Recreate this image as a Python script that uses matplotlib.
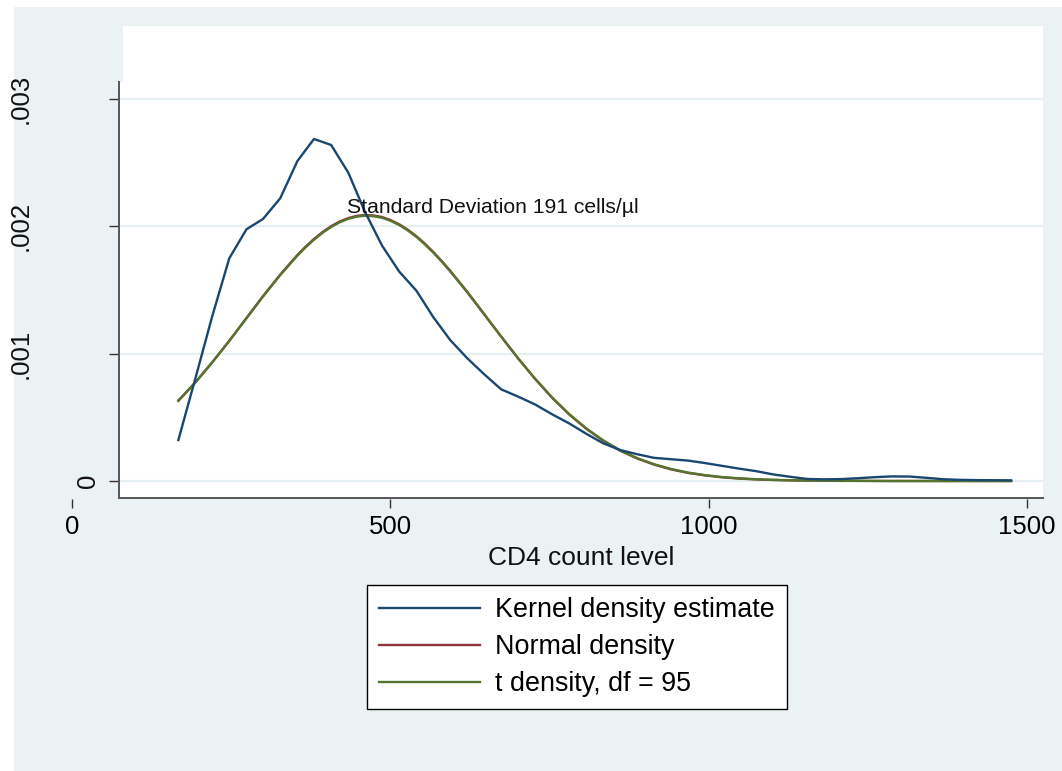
import matplotlib.pyplot as plt
from matplotlib.patches import Rectangle
from matplotlib.transforms import blended_transform_factory

plt.rcParams['font.family'] = ['Liberation Sans', 'DejaVu Sans']

# evaluation grid (CD4 count) and densities, in units of 1e-3
cd4 = [167, 194, 220, 247, 274, 300, 327, 354, 380, 407,
       434, 460, 487, 514, 541, 567, 594, 621, 647, 674,
       701, 727, 754, 781, 808, 834, 861, 888, 914, 941,
       968, 994, 1021, 1048, 1075, 1101, 1128, 1155, 1181, 1208,
       1235, 1261, 1288, 1315, 1342, 1368, 1395, 1422, 1448, 1475]

kernel = [0.322, 0.81, 1.29, 1.749, 1.977, 2.058, 2.220, 2.513, 2.686, 2.639,
          2.421, 2.115, 1.848, 1.644, 1.494, 1.290, 1.107, 0.963, 0.840, 0.720,
          0.662, 0.602, 0.524, 0.452, 0.370, 0.297, 0.243, 0.210, 0.182, 0.171,
          0.160, 0.141, 0.119, 0.097, 0.077, 0.052, 0.033, 0.016, 0.013, 0.015,
          0.022, 0.030, 0.036, 0.035, 0.025, 0.014, 0.009, 0.007, 0.006, 0.005]

# the smooth curves are read at a finer step around the peak
cd4_fit = [167, 194, 220, 247, 274, 300, 327, 354, 367, 380, 394, 407, 420,
           434, 447, 460, 474, 487, 500, 514, 527, 541, 554, 567, 581, 594,
           621, 647, 674, 701, 727, 754, 781, 808, 834, 861, 888, 914, 941,
           968, 994, 1021, 1048, 1075, 1101, 1128, 1155, 1181, 1208,
           1235, 1261, 1288, 1315, 1342, 1368, 1395, 1422, 1448, 1475]

normal = [0.629, 0.775, 0.930, 1.101, 1.280, 1.452, 1.621, 1.775, 1.841, 1.901,
          1.957, 2.001, 2.037, 2.065, 2.082, 2.089, 2.085, 2.073, 2.050, 2.016,
          1.975, 1.922, 1.865, 1.801, 1.726, 1.651,
          1.484, 1.313, 1.135, 0.961, 0.804, 0.654, 0.522, 0.409, 0.317, 0.238,
          0.176, 0.129, 0.091, 0.063, 0.044, 0.029, 0.019, 0.012, 0.008, 0.005,
          0.003, 0.002, 0.001, 0.001, 0.0, 0.0, 0.0, 0.0, 0.0, 0.0, 0.0, 0.0, 0.0]

t_dens = [0.632, 0.777, 0.931, 1.100, 1.278, 1.449, 1.617, 1.770, 1.836, 1.895,
          1.951, 1.995, 2.031, 2.059, 2.076, 2.083, 2.079, 2.067, 2.044, 2.010,
          1.969, 1.917, 1.859, 1.796, 1.721, 1.647,
          1.481, 1.311, 1.134, 0.961, 0.805, 0.656, 0.525, 0.412, 0.320, 0.241,
          0.179, 0.132, 0.094, 0.066, 0.046, 0.031, 0.021, 0.014, 0.009, 0.006,
          0.004, 0.003, 0.002, 0.001, 0.001, 0.0, 0.0, 0.0, 0.0, 0.0, 0.0, 0.0, 0.0]

yticks = [0, 0.001, 0.002, 0.003]
ytick_labels = ['0', '.001', '.002', '.003']
xticks = [0, 500, 1000, 1500]
legend_labels = ['Kernel density estimate', 'Normal density', 't density, df = 95']

navy = '#1A476F'
maroon = '#90353B'
green = '#55752F'
bg = '#EAF2F3'

W, H = 1062, 771


def fx(px):
    return px / W


def fy(py):
    return 1 - py / H


fig = plt.figure(figsize=(W / 100, H / 100), dpi=100)
fig.patch.set_facecolor('white')
fig.add_artist(Rectangle((fx(14), 0), 1 - fx(14), fy(7), transform=fig.transFigure,
                         facecolor=bg, edgecolor='none', zorder=-10))
fig.add_artist(Rectangle((fx(122.7), fy(498)), fx(1043) - fx(122.7), fy(26) - fy(498),
                         transform=fig.transFigure, facecolor='white', edgecolor='none', zorder=-9))

ax = fig.add_axes([fx(118.7), fy(498), fx(1043) - fx(118.7), fy(82) - fy(498)])
ax.set_facecolor('white')
ax.set_xlim(73.3, 1525.1)
ax.set_ylim(-0.0001335, 0.0031335)

k = [v / 1000 for v in kernel]
n = [v / 1000 for v in normal]
t = [v / 1000 for v in t_dens]
l1, = ax.plot(cd4, k, color=navy, lw=1.7, zorder=4)
l2, = ax.plot(cd4_fit, n, color=maroon, lw=1.7, zorder=2)
l3, = ax.plot(cd4_fit, t, color=green, lw=1.7, zorder=3)

for s in ['top', 'right']:
    ax.spines[s].set_visible(False)
for s in ['left', 'bottom']:
    ax.spines[s].set_color('#555555')
    ax.spines[s].set_linewidth(1.4)

ax.set_xticks([])
ax.set_yticks(yticks)
ax.set_yticklabels([''] * len(yticks))
ax.tick_params(axis='y', length=7.2, width=1.0, color='#333333')
ax.yaxis.grid(True, color='#E6EFF1', lw=1.6)
ax.set_axisbelow(True)

# rotated y labels, placed like the original
trans = blended_transform_factory(fig.transFigure, ax.transData)
label_x = [88, 21, 21, 21]
for v, lab, xp in zip(yticks, ytick_labels, label_x):
    ax.text(fx(xp), v, lab, transform=trans, rotation=90, ha='center', va='center',
            fontsize=18.5, color='#111111')

ax.text(432, 0.002102, 'Standard Deviation 191 cells/\u00b5l', fontsize=15.2,
        va='baseline', ha='left', color='#111111', zorder=5)

# separate x axis scale, as in the original
ax2 = fig.add_axes([fx(72), fy(499), fx(1027) - fx(72), 0.0001])
ax2.set_xlim(0, 1500)
ax2.set_xticks(xticks)
ax2.set_xticklabels([str(v) for v in xticks])
ax2.set_yticks([])
ax2.patch.set_visible(False)
for s in ax2.spines.values():
    s.set_visible(False)
ax2.tick_params(axis='x', length=6.5, width=1.0, color='#333333', labelsize=18.5, pad=5)

fig.text(fx(581), fy(565), 'CD4 count level', ha='center', va='baseline', fontsize=19,
         color='#111111')

leg = fig.legend([l1, l2, l3], legend_labels, loc='upper left',
                 bbox_to_anchor=(fx(367.3), fy(585)), bbox_transform=fig.transFigure,
                 fontsize=19.4, frameon=True, fancybox=False, framealpha=1,
                 edgecolor='black', handlelength=3.75, handletextpad=0.55,
                 borderpad=0.45, labelspacing=0.41, borderaxespad=0)
leg.get_frame().set_linewidth(1.0)
for line in leg.get_lines():
    line.set_linewidth(1.7)

fig.savefig('out.png', dpi=100)
